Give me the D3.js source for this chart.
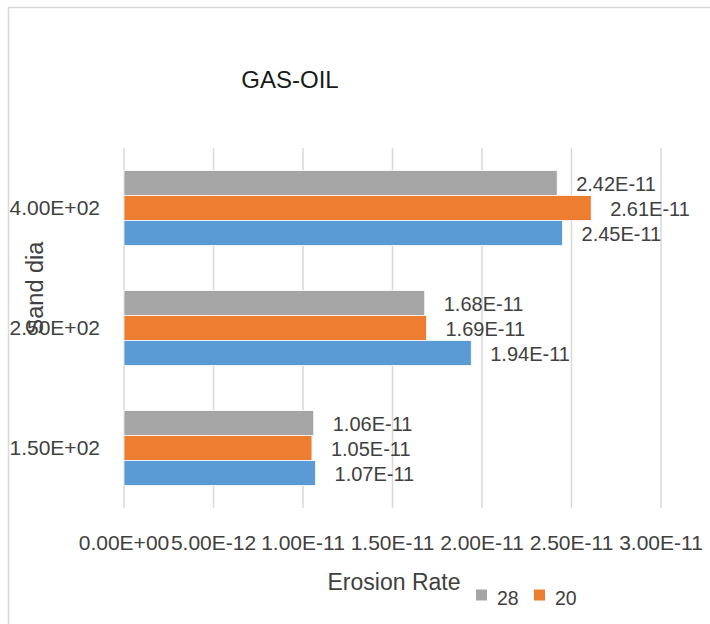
<!DOCTYPE html>
<html>
<head>
<meta charset="utf-8">
<script src="https://cdn.jsdelivr.net/npm/d3@7"></script>
<style>
  html, body { margin: 0; padding: 0; background: #fff; }
  svg text { font-family: "Liberation Sans", Arial, sans-serif; }
</style>
</head>
<body>
<div id="chart"></div>
<script>
// sand diameter categories, bottom to top
const categories = ['1.50E+02', '2.50E+02', '4.00E+02']
// series drawn top to bottom inside each group
const series28 = [1.06e-11, 1.68e-11, 2.42e-11]
const series20 = [1.05e-11, 1.69e-11, 2.61e-11]
const seriesBlue = [1.07e-11, 1.94e-11, 2.45e-11]
const valueLabels28 = ['1.06E-11', '1.68E-11', '2.42E-11']
const valueLabels20 = ['1.05E-11', '1.69E-11', '2.61E-11']
const valueLabelsBlue = ['1.07E-11', '1.94E-11', '2.45E-11']
const xTicks = [0, 5e-12, 1e-11, 1.5e-11, 2e-11, 2.5e-11, 3e-11]
const xTickLabels = ['0.00E+00', '5.00E-12', '1.00E-11', '1.50E-11', '2.00E-11', '2.50E-11', '3.00E-11']
const legendItems = ['28', '20']

const width = 710
const height = 624
const colors = ['#a5a5a5', '#ed7d31', '#5b9bd5']
const textColor = '#404040'

const allSeries = [series28, series20, seriesBlue]
const allLabels = [valueLabels28, valueLabels20, valueLabelsBlue]

const rows = []
categories.forEach((c, ci) => {
  allSeries.forEach((s, si) => {
    rows.push({cat: c, s: si, v: s[ci], label: allLabels[si][ci]})
  })
})

const svg = d3.select('#chart').append('svg')
  .attr('width', width)
  .attr('height', height)

// chart area border (runs off right and bottom edges)
svg.append('path')
  .attr('d', 'M8.5,' + (height + 2) + ' L8.5,7.5 L' + (width + 2) + ',7.5')
  .attr('fill', 'none')
  .attr('stroke', '#d9d9d9')
  .attr('stroke-width', 1.5)

const x = d3.scaleLinear().domain([0, 3e-11]).range([124, 661])
const y = d3.scaleBand().domain(categories.slice().reverse()).range([148, 508])
  .paddingInner(0.375).paddingOuter(0.1875)
const yInner = d3.scaleBand().domain([0, 1, 2]).range([0, y.bandwidth()])

// gridlines
svg.append('g').selectAll('line')
  .data(xTicks)
  .enter()
  .append('line')
  .attr('x1', d => x(d))
  .attr('x2', d => x(d))
  .attr('y1', y.range()[0])
  .attr('y2', y.range()[1])
  .attr('stroke', '#d9d9d9')
  .attr('stroke-width', 1.5)

// bars
svg.append('g').selectAll('rect')
  .data(rows)
  .enter()
  .append('rect')
  .attr('x', x(0))
  .attr('y', d => y(d.cat) + yInner(d.s))
  .attr('width', d => x(d.v) - x(0))
  .attr('height', yInner.bandwidth())
  .attr('fill', d => colors[d.s])
  .attr('stroke', '#fff')
  .attr('stroke-width', 0.75)

// data labels
svg.append('g').selectAll('text')
  .data(rows)
  .enter()
  .append('text')
  .attr('x', d => x(d.v) + 19)
  .attr('y', d => y(d.cat) + yInner(d.s) + yInner.bandwidth() / 2 + 1)
  .attr('dy', '0.35em')
  .attr('font-size', 20)
  .attr('fill', textColor)
  .text(d => d.label)

// category labels
svg.append('g').selectAll('text')
  .data(categories)
  .enter()
  .append('text')
  .attr('x', 100)
  .attr('y', d => y(d) + y.bandwidth() / 2)
  .attr('dy', '0.35em')
  .attr('text-anchor', 'end')
  .attr('font-size', 21)
  .attr('fill', textColor)
  .text(d => d)

// x tick labels
svg.append('g').selectAll('text')
  .data(xTicks)
  .enter()
  .append('text')
  .attr('x', d => x(d))
  .attr('y', 543)
  .attr('dy', '0.35em')
  .attr('text-anchor', 'middle')
  .attr('font-size', 21)
  .attr('fill', textColor)
  .text((d, i) => xTickLabels[i])

// title
svg.append('text')
  .attr('x', 290)
  .attr('y', 80)
  .attr('dy', '0.35em')
  .attr('text-anchor', 'middle')
  .attr('font-size', 24)
  .attr('fill', '#1a1a1a')
  .text('GAS-OIL')

// axis titles
svg.append('text')
  .attr('transform', 'translate(43,288) rotate(-90)')
  .attr('text-anchor', 'middle')
  .attr('font-size', 23.5)
  .attr('fill', textColor)
  .text('Sand dia')

svg.append('text')
  .attr('x', 394)
  .attr('y', 582)
  .attr('dy', '0.35em')
  .attr('text-anchor', 'middle')
  .attr('font-size', 23)
  .attr('fill', textColor)
  .text('Erosion Rate')

// legend
const legend = svg.append('g').selectAll('g')
  .data(legendItems)
  .enter()
  .append('g')
  .attr('transform', (d, i) => 'translate(' + (476 + i * 58) + ',589.5)')

legend.append('rect')
  .attr('width', 11)
  .attr('height', 11)
  .attr('fill', (d, i) => colors[i])

legend.append('text')
  .attr('x', 21)
  .attr('y', 8.5)
  .attr('dy', '0.35em')
  .attr('font-size', 19.5)
  .attr('fill', textColor)
  .text(d => d)
</script>
</body>
</html>
